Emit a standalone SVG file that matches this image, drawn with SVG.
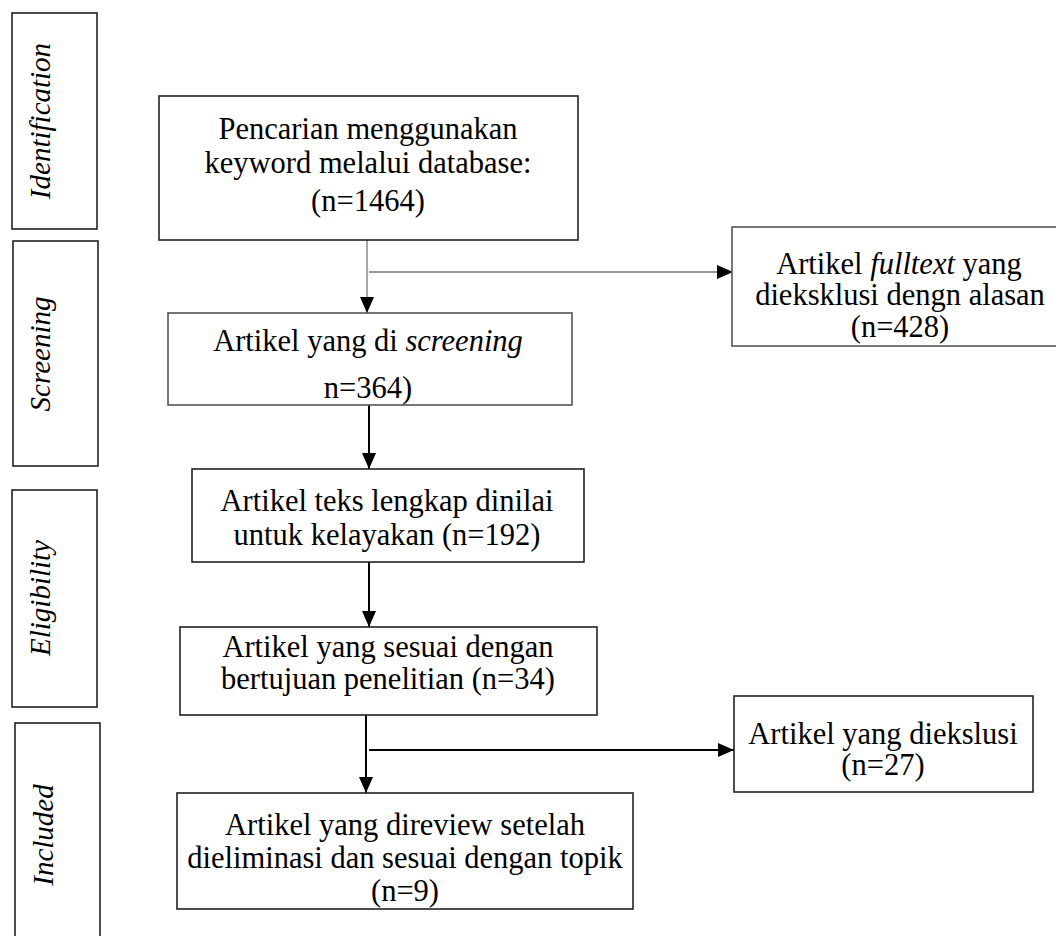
<svg xmlns="http://www.w3.org/2000/svg" width="1056" height="936" viewBox="0 0 1056 936">
<style>
  .box{fill:#fff;stroke:#222;stroke-width:1.6}
  .gbox{fill:#fff;stroke:#555;stroke-width:1.6}
  .t{font-family:"Liberation Serif","Times New Roman",serif;font-size:30.5px;fill:#000;text-anchor:middle}
  .side{font-family:"Liberation Serif","Times New Roman",serif;font-size:29px;font-style:italic;fill:#000;text-anchor:middle}
  .it{font-style:italic}
  .c{fill:none;stroke:#000;stroke-width:2}
  .cg{fill:none;stroke:#777;stroke-width:1.3}
</style>
<defs>
  <marker id="ah" markerUnits="userSpaceOnUse" markerWidth="17" markerHeight="16" refX="16" refY="8" orient="auto">
    <path d="M0,1 L16,8 L0,15 Z" fill="#000"/>
  </marker>
</defs>
<rect width="1056" height="936" fill="#fff"/>

<g id="stage-identification">
  <rect class="box" x="12" y="13" width="85" height="216"/>
  <text class="side" transform="translate(50,121) rotate(-90)">Identification</text>
</g>
<g id="stage-screening">
  <rect class="box" x="13" y="241" width="85" height="225"/>
  <text class="side" transform="translate(50,354) rotate(-90)">Screening</text>
</g>
<g id="stage-eligibility">
  <rect class="box" x="12" y="490" width="85" height="217"/>
  <text class="side" transform="translate(50,598) rotate(-90)">Eligibility</text>
</g>
<g id="stage-included">
  <rect class="box" x="15" y="723" width="85" height="230"/>
  <text class="side" transform="translate(53,835) rotate(-90)">Included</text>
</g>

<g id="connectors">
  <line class="cg" x1="367" y1="240" x2="367" y2="313" marker-end="url(#ah)"/>
  <line class="cg" x1="369" y1="272" x2="733" y2="272" marker-end="url(#ah)"/>
  <line class="c" x1="369" y1="405" x2="369" y2="469" marker-end="url(#ah)"/>
  <line class="c" x1="369" y1="562" x2="369" y2="627" marker-end="url(#ah)"/>
  <line class="c" x1="366" y1="715" x2="366" y2="793" marker-end="url(#ah)"/>
  <line class="c" x1="369" y1="750" x2="734" y2="750" marker-end="url(#ah)"/>
</g>

<g id="node-search">
  <rect class="box" x="159" y="96" width="419" height="144"/>
  <text class="t" x="368" y="139">Pencarian menggunakan</text>
  <text class="t" x="368" y="173">keyword melalui database:</text>
  <text class="t" x="368" y="211">(n=1464)</text>
</g>

<g id="node-excluded-fulltext">
  <rect class="gbox" x="732" y="227" width="340" height="119"/>
  <text class="t" x="899" y="274">Artikel <tspan class="it">fulltext</tspan> yang</text>
  <text class="t" x="900" y="305">dieksklusi dengn alasan</text>
  <text class="t" x="900" y="337">(n=428)</text>
</g>

<g id="node-screening">
  <rect class="gbox" x="168" y="313" width="404" height="92"/>
  <text class="t" x="368" y="351">Artikel yang di <tspan class="it">screening</tspan></text>
  <text class="t" x="368" y="398">n=364)</text>
</g>

<g id="node-fulltext">
  <rect class="box" x="192" y="469" width="392" height="93"/>
  <text class="t" x="387" y="511">Artikel teks lengkap dinilai</text>
  <text class="t" x="387" y="545">untuk kelayakan (n=192)</text>
</g>

<g id="node-eligible">
  <rect class="box" x="180" y="627" width="417" height="88"/>
  <text class="t" x="388" y="657">Artikel yang sesuai dengan</text>
  <text class="t" x="388" y="689">bertujuan penelitian (n=34)</text>
</g>

<g id="node-excluded">
  <rect class="box" x="734" y="696" width="299" height="96"/>
  <text class="t" x="883" y="744">Artikel yang diekslusi</text>
  <text class="t" x="883" y="775">(n=27)</text>
</g>

<g id="node-included">
  <rect class="box" x="177" y="793" width="456" height="116"/>
  <text class="t" x="405" y="835">Artikel yang direview setelah</text>
  <text class="t" x="405" y="868">dieliminasi dan sesuai dengan topik</text>
  <text class="t" x="405" y="901">(n=9)</text>
</g>
</svg>
